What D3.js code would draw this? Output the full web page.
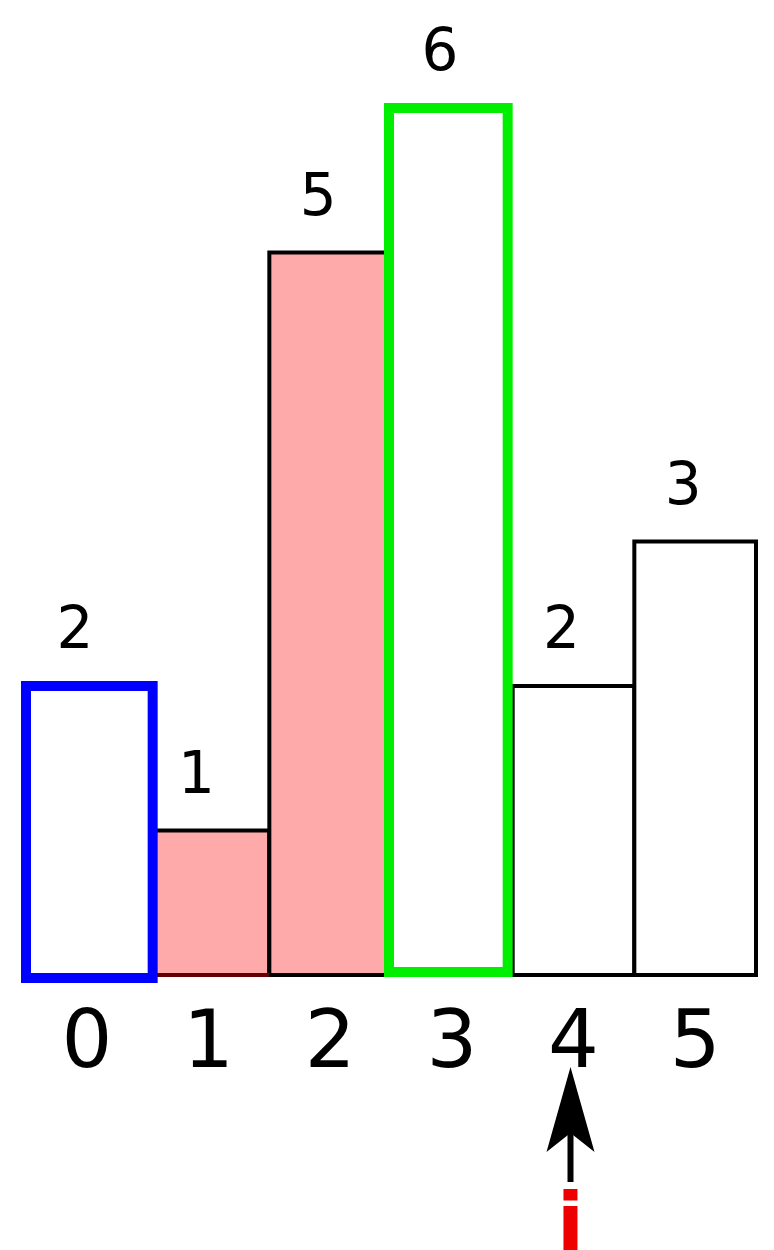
<!DOCTYPE html>
<html>
<head>
<meta charset="utf-8">
<script src="https://cdn.jsdelivr.net/npm/d3@7"></script>
<style>
  html, body { margin: 0; padding: 0; background: #ffffff; }
  svg { display: block; }
</style>
</head>
<body>
<div id="chart"></div>
<script>
// ---- data ----
const categories = ["0", "1", "2", "3", "4", "5"];
const values = [2, 1, 5, 6, 2, 3];
const fillState = ["none", "pink", "pink", "none", "none", "none"];
const highlight = ["blue", null, null, "green", null, null];
const yTicks = [0, 1, 2, 3, 4, 5, 6];
const pointerIndex = 4;
const pointerLabel = "i";

// ---- layout ----
const W = 774, H = 1250;
const svg = d3.select("#chart").append("svg")
  .attr("width", W).attr("height", H)
  .style("background", "#ffffff");

const x = d3.scaleBand().domain(categories).range([26, 756]).padding(0);
const y = d3.scaleLinear().domain([0, 6]).range([975, 108]);

const fills = { none: "#ffffff", pink: "#ffaaaa" };
const strokeColors = { blue: "#0000ff", green: "#00ee00" };

const data = categories.map((c, i) => ({ c, v: values[i], f: fillState[i], h: highlight[i], i }));

// plain bars (black outline)
svg.append("g").selectAll("rect.plain")
  .data(data.filter(d => !d.h))
  .join("rect")
  .attr("class", "plain")
  .attr("x", d => x(d.c))
  .attr("y", d => y(d.v))
  .attr("width", x.bandwidth())
  .attr("height", d => y(0) - y(d.v))
  .attr("fill", d => fills[d.f])
  .attr("stroke", "#000")
  .attr("stroke-width", 4);

// dark baseline under pink bar 1
svg.append("g").selectAll("line.base")
  .data(data.filter(d => d.f === "pink" && d.i === 1))
  .join("line")
  .attr("x1", d => x(d.c)).attr("x2", d => x(d.c) + x.bandwidth())
  .attr("y1", y(0)).attr("y2", y(0))
  .attr("stroke", "#660000").attr("stroke-width", 4);

// highlighted bars (thick colored outline)
svg.append("g").selectAll("rect.hl")
  .data(data.filter(d => d.h))
  .join("rect")
  .attr("class", "hl")
  .attr("x", d => x(d.c) + (d.i === 0 ? 0 : -2))
  .attr("y", d => y(d.v))
  .attr("width", d => x.bandwidth() + (d.i === 0 ? 5 : -3))
  .attr("height", d => y(0) - y(d.v) + (d.i === 0 ? 3 : -3))
  .attr("fill", "#ffffff")
  .attr("stroke", d => strokeColors[d.h])
  .attr("stroke-width", 10);

// value labels
svg.append("g").selectAll("text.val")
  .data(data)
  .join("text")
  .attr("class", "val")
  .attr("x", d => x(d.c) + x.bandwidth() / 2 - 12)
  .attr("y", d => y(d.v) - 38)
  .attr("text-anchor", "middle")
  .attr("font-family", "DejaVu Sans, sans-serif")
  .attr("font-size", 58)
  .attr("fill", "#000")
  .text(d => d.v);

// category axis labels
svg.append("g").selectAll("text.cat")
  .data(categories)
  .join("text")
  .attr("class", "cat")
  .attr("x", d => x(d) + x.bandwidth() / 2)
  .attr("y", 1067)
  .attr("text-anchor", "middle")
  .attr("font-family", "DejaVu Sans, sans-serif")
  .attr("font-size", 80)
  .attr("fill", "#000")
  .text(d => d);

// pointer arrow
const ax = x(categories[pointerIndex]) + x.bandwidth() / 2 - 3;
const arrow = svg.append("g");
arrow.append("line")
  .attr("x1", ax).attr("x2", ax)
  .attr("y1", 1182).attr("y2", 1125)
  .attr("stroke", "#000").attr("stroke-width", 6);
arrow.append("path")
  .attr("d", d3.line()([[ax, 1067], [ax + 24, 1152], [ax, 1133], [ax - 24, 1152]]) + "Z")
  .attr("fill", "#000");

// pointer label
svg.append("text")
  .attr("x", ax)
  .attr("y", 1250)
  .attr("text-anchor", "middle")
  .attr("font-family", "DejaVu Sans, sans-serif")
  .attr("font-weight", "bold")
  .attr("font-size", 80)
  .attr("fill", "#ee0000")
  .text(pointerLabel);
</script>
</body>
</html>
